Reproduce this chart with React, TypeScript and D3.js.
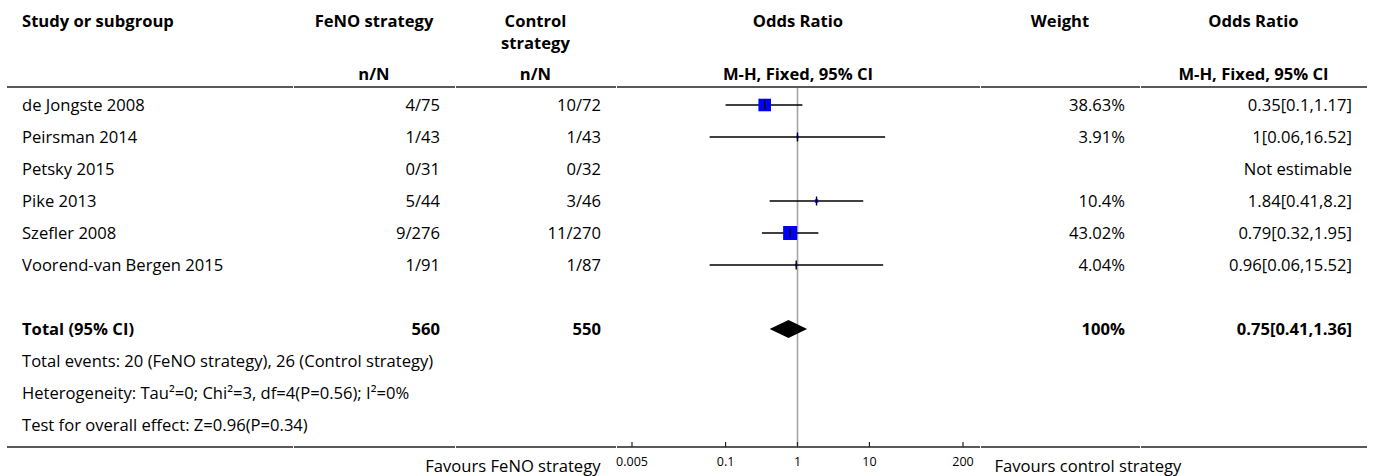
import React, { useEffect, useRef } from 'react';
import * as d3 from 'd3';

// Study rows
const studies = [
  'de Jongste 2008',
  'Peirsman 2014',
  'Petsky 2015',
  'Pike 2013',
  'Szefler 2008',
  'Voorend-van Bergen 2015',
];
const fenoEvents = ['4/75', '1/43', '0/31', '5/44', '9/276', '1/91'];
const controlEvents = ['10/72', '1/43', '0/32', '3/46', '11/270', '1/87'];
const weights: (number | null)[] = [38.63, 3.91, null, 10.4, 43.02, 4.04];
const oddsRatios: (number | null)[] = [0.35, 1, null, 1.84, 0.79, 0.96];
const lowerCI: (number | null)[] = [0.1, 0.06, null, 0.41, 0.32, 0.06];
const upperCI: (number | null)[] = [1.17, 16.52, null, 8.2, 1.95, 15.52];

// Pooled result
const total = { feno: '560', control: '550', weight: '100%', or: 0.75, lo: 0.41, hi: 1.36 };
const footnotes = [
  'Total events: 20 (FeNO strategy), 26 (Control strategy)',
  'Heterogeneity: Tau\u00b2=0; Chi\u00b2=3, df=4(P=0.56); I\u00b2=0%',
  'Test for overall effect: Z=0.96(P=0.34)',
];
const axisTicks = [0.005, 0.1, 1, 10, 200];
const favourLeft = 'Favours FeNO strategy';
const favourRight = 'Favours control strategy';

const App: React.FC = () => {
  const svgRef = useRef<SVGSVGElement>(null);

  useEffect(() => {
    const svg = d3.select(svgRef.current);
    svg.selectAll('*').remove();

    const width = 1373;
    const height = 476;
    const font = '"Open Sans", "Noto Sans", sans-serif';
    const fs = 16.6;

    // column edges
    const cols = [7, 293, 455, 616, 980, 1140, 1367];
    const pad = 15;
    const rowY = (i: number) => 105 + i * 32;
    const axisY = 447;

    const x = d3.scaleLog().domain([0.005, 200]).range([632, 963]);
    const boxSize = d3.scaleLinear().domain([0, 43.02]).range([0, 14]);

    svg.attr('width', width).attr('height', height);
    svg.append('rect').attr('width', width).attr('height', height).attr('fill', '#fff');

    const text = (
      tx: number,
      ty: number,
      s: string,
      anchor: string,
      bold = false,
      size = fs
    ) =>
      svg.append('text')
        .attr('x', tx)
        .attr('y', ty)
        .attr('text-anchor', anchor)
        .attr('font-family', font)
        .attr('font-size', size)
        .attr('font-weight', bold ? 700 : 400)
        .attr('fill', '#000')
        .text(s);

    // Header
    const mid = (a: number, b: number) => (cols[a] + cols[b]) / 2;
    text(cols[0] + pad, 27, 'Study or subgroup', 'start', true);
    text(mid(1, 2), 27, 'FeNO strategy', 'middle', true);
    text(mid(2, 3), 27, 'Control', 'middle', true);
    text(mid(2, 3), 49, 'strategy', 'middle', true);
    text(mid(3, 4), 27, 'Odds Ratio', 'middle', true);
    text(mid(4, 5), 27, 'Weight', 'middle', true);
    text(mid(5, 6), 27, 'Odds Ratio', 'middle', true);
    text(mid(1, 2), 80, 'n/N', 'middle', true);
    text(mid(2, 3), 80, 'n/N', 'middle', true);
    text(mid(3, 4), 80, 'M-H, Fixed, 95% CI', 'middle', true);
    text(mid(5, 6), 80, 'M-H, Fixed, 95% CI', 'middle', true);

    // header and footer rules
    [87, axisY].forEach(ly => {
      for (let c = 0; c < cols.length - 1; c++) {
        svg.append('line')
          .attr('x1', cols[c] + (c === 0 ? 0 : 1))
          .attr('x2', cols[c + 1])
          .attr('y1', ly)
          .attr('y2', ly)
          .attr('stroke', '#222')
          .attr('stroke-width', 1.6);
      }
    });

    // line of no effect
    svg.append('line')
      .attr('x1', x(1))
      .attr('x2', x(1))
      .attr('y1', 88)
      .attr('y2', axisY)
      .attr('stroke', '#a6a6a6')
      .attr('stroke-width', 1.6);

    // Study rows
    studies.forEach((s, i) => {
      const cy = rowY(i);
      const ty = cy + 6;
      text(cols[0] + pad, ty, s, 'start');
      text(cols[2] - pad, ty, fenoEvents[i], 'end');
      text(cols[3] - pad, ty, controlEvents[i], 'end');
      const w = weights[i];
      const or = oddsRatios[i];
      const lo = lowerCI[i];
      const hi = upperCI[i];
      if (w !== null) text(cols[5] - pad, ty, `${w}%`, 'end');
      if (or === null || lo === null || hi === null) {
        text(cols[6] - pad, ty, 'Not estimable', 'end');
        return;
      }
      text(cols[6] - pad, ty, `${or}[${lo},${hi}]`, 'end');

      svg.append('line')
        .attr('x1', x(lo))
        .attr('x2', x(hi))
        .attr('y1', cy)
        .attr('y2', cy)
        .attr('stroke', '#000')
        .attr('stroke-width', 1.4);
      const bs = Math.max(2.5, boxSize(w ?? 0));
      svg.append('rect')
        .attr('x', x(or) - bs / 2)
        .attr('y', cy - bs / 2)
        .attr('width', bs)
        .attr('height', bs)
        .attr('fill', '#0000ff');
      svg.append('line')
        .attr('x1', x(or))
        .attr('x2', x(or))
        .attr('y1', cy - 4.5)
        .attr('y2', cy + 4.5)
        .attr('stroke', '#000')
        .attr('stroke-width', 1.4);
    });

    // Total row
    const ty = rowY(7);
    text(cols[0] + pad, ty + 6, 'Total (95% CI)', 'start', true);
    text(cols[2] - pad, ty + 6, total.feno, 'end', true);
    text(cols[3] - pad, ty + 6, total.control, 'end', true);
    text(cols[5] - pad, ty + 6, total.weight, 'end', true);
    text(cols[6] - pad, ty + 6, `${total.or}[${total.lo},${total.hi}]`, 'end', true);

    const diamond = d3.line<[number, number]>()([
      [x(total.lo), ty],
      [x(total.or), ty - 9],
      [x(total.hi), ty],
      [x(total.or), ty + 9],
    ]);
    svg.append('path')
      .attr('d', diamond + 'Z')
      .attr('fill', '#000');

    footnotes.forEach((f, k) => {
      text(cols[0] + pad, rowY(8 + k) + 6, f, 'start');
    });

    // Axis
    const axis = svg.append('g').attr('transform', `translate(0,${axisY})`);
    axisTicks.forEach(t => {
      axis.append('line')
        .attr('x1', x(t))
        .attr('x2', x(t))
        .attr('y1', -5)
        .attr('y2', 0)
        .attr('stroke', '#222')
        .attr('stroke-width', 1.2);
      axis.append('text')
        .attr('x', x(t))
        .attr('y', 19)
        .attr('text-anchor', 'middle')
        .attr('font-family', font)
        .attr('font-size', 12.5)
        .attr('fill', '#000')
        .text(String(t));
    });

    text(x(1) - 197, axisY + 25, favourLeft, 'end');
    text(x(1) + 197, axisY + 25, favourRight, 'start');
  }, []);

  return (
    <svg ref={svgRef} style={{ position: 'absolute', left: 0, top: 0, display: 'block' }}></svg>
  );
};

export default App;
